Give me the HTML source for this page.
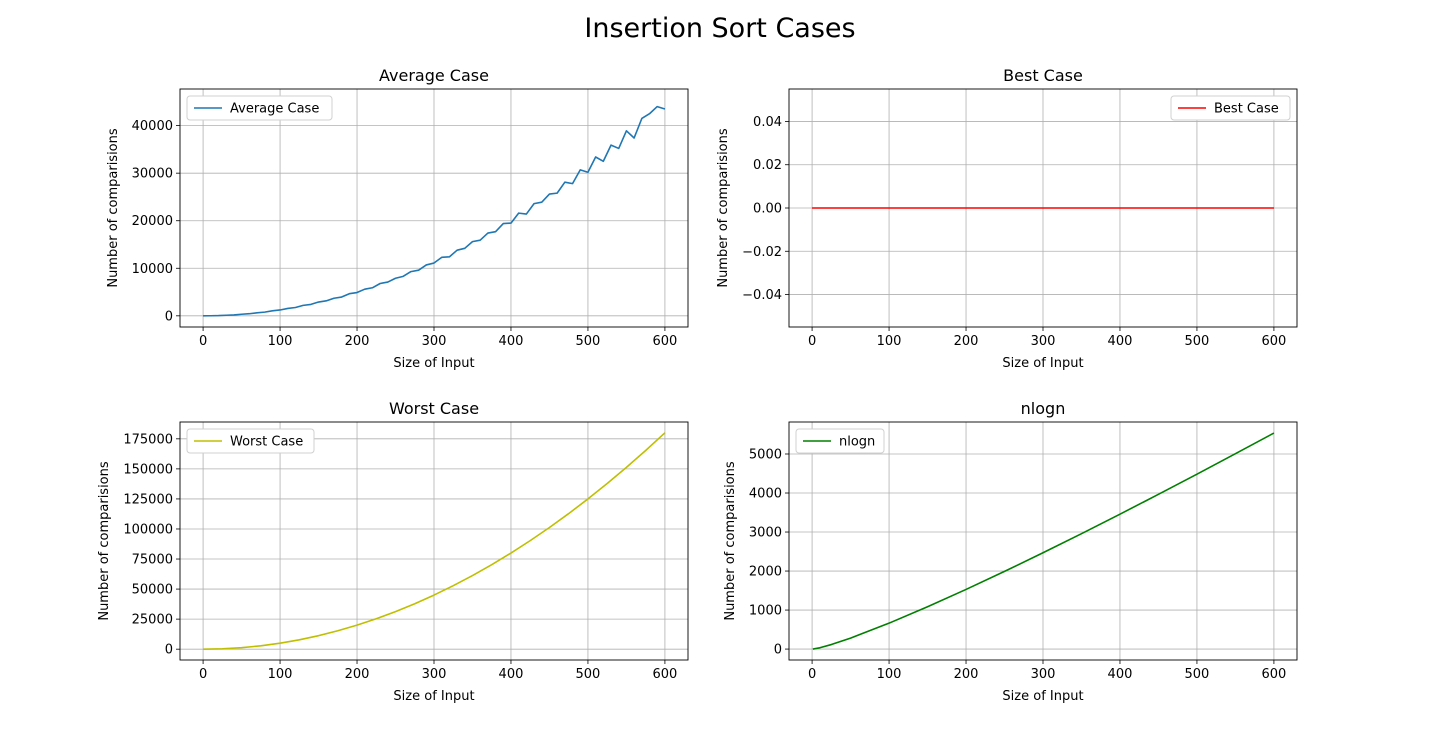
<!DOCTYPE html>
<html><head><meta charset="utf-8"><style>
body{margin:0;background:#fff;width:1440px;height:741px;overflow:hidden}
svg{font-family:"DejaVu Sans","Liberation Sans",sans-serif}
</style></head><body>
<svg id="fig" width="1440" height="741" xmlns="http://www.w3.org/2000/svg">
<text x="720" y="37" font-size="27" text-anchor="middle">Insertion Sort Cases</text>
</svg>
<script>
const xTicks=[0,100,200,300,400,500,600];
const avgX=[0,10,20,30,40,50,60,70,80,90,100,110,120,130,140,150,160,170,180,190,200,210,220,230,240,250,260,270,280,290,300,310,320,330,340,350,360,370,380,390,400,410,420,430,440,450,460,470,480,490,500,510,520,530,540,550,560,570,580,590,600];
const avgY=[0,15,48,120,190,330,440,640,780,1050,1230,1560,1750,2200,2400,2900,3150,3700,3950,4650,4900,5600,5900,6800,7100,7900,8300,9300,9600,10700,11100,12300,12400,13800,14200,15600,15900,17400,17700,19400,19500,21600,21400,23600,23900,25600,25800,28100,27800,30700,30200,33400,32500,35900,35200,38900,37400,41500,42500,44000,43500];
const bestX=[0,600];
const bestY=[0,0];
const worstX=[0,25,50,75,100,125,150,175,200,225,250,275,300,325,350,375,400,425,450,475,500,525,550,575,600];
const worstY=[0,312,1250,2812,5000,7812,11250,15312,20000,25312,31250,37812,45000,52812,61250,70312,80000,90312,101250,112812,125000,137812,151250,165312,180000];
const nlX=[1,10,25,50,100,150,200,250,300,350,400,450,500,550,600];
const nlY=[0,33,116,282,664,1084,1529,1991,2469,2958,3458,3966,4483,5007,5537];
const avgTicks=[0,10000,20000,30000,40000];
const bestTicks=[-0.04,-0.02,0.00,0.02,0.04];
const bestTickLabels=["\u22120.04","\u22120.02","0.00","0.02","0.04"];
const worstTicks=[0,25000,50000,75000,100000,125000,150000,175000];
const nlTicks=[0,1000,2000,3000,4000,5000];

const NS="http://www.w3.org/2000/svg";
const fig=document.getElementById('fig');
function mk(tag,attrs,parent){const e=document.createElementNS(NS,tag);for(const k in attrs)e.setAttribute(k,attrs[k]);(parent||fig).appendChild(e);return e;}

function panel(o){
  const g=mk('g',{});
  
  
  const L=o.x0,R=o.x0+508,T=o.y0,B=o.y0+238;
  const sx=v=>L+(v+30)/660*(R-L);
  const sy=v=>B-(v-o.ymin)/(o.ymax-o.ymin)*(B-T);
  xTicks.forEach(t=>{
    const l=mk('line',{x1:sx(t),x2:sx(t),y1:T,y2:B,stroke:'#b0b0b0','stroke-width':0.8},g);
    
    
    mk('line',{x1:sx(t),x2:sx(t),y1:B,y2:B+4,stroke:'#000','stroke-width':0.8},g);
    const tx=mk('text',{x:sx(t),y:B+18,'font-size':13,'text-anchor':'middle'},g);
    tx.textContent=t;
    
    
  });
  o.ticks.forEach((t,i)=>{
    const l=mk('line',{x1:L,x2:R,y1:sy(t),y2:sy(t),stroke:'#b0b0b0','stroke-width':0.8},g);
    
    
    mk('line',{x1:L-4,x2:L,y1:sy(t),y2:sy(t),stroke:'#000','stroke-width':0.8},g);
    const tx=mk('text',{x:L-7,y:sy(t)+4.5,'font-size':13,'text-anchor':'end'},g);
    tx.textContent=o.labels?o.labels[i]:t;
    
    
  });
  const pts=o.xs.map((x,i)=>sx(x)+','+sy(o.ys[i])).join(' ');
  const pl=mk('polyline',{points:pts,fill:'none',stroke:o.color,'stroke-width':1.6,'stroke-linejoin':'round'},g);
  
  
  const fr=mk('rect',{x:L,y:T,width:R-L,height:B-T,fill:'none',stroke:'#000','stroke-width':0.9},g);
  
  
  const tt=mk('text',{x:(L+R)/2,y:T-8,'font-size':16,'text-anchor':'middle'},g);
  tt.textContent=o.title;
  
  
  const xl=mk('text',{x:(L+R)/2,y:B+40,'font-size':13,'text-anchor':'middle'},g);
  xl.textContent='Size of Input';
  
  
  const yl=mk('text',{x:0,y:0,'font-size':13,'text-anchor':'middle',transform:`translate(${o.ylx},${(T+B)/2}) rotate(-90)`},g);
  yl.textContent='Number of comparisions';
  
  
  const lg=mk('g',{},g);
  
  
  const lw=o.legW, lx=o.legRight?R-7-lw:L+7, ly=T+7;
  mk('rect',{x:lx,y:ly,width:lw,height:24,rx:3,fill:'#fff',stroke:'#d0d0d0'},lg);
  mk('line',{x1:lx+7,x2:lx+35,y1:ly+12,y2:ly+12,stroke:o.color,'stroke-width':1.6},lg);
  const lt=mk('text',{x:lx+43,y:ly+16.5,'font-size':13},lg);
  lt.textContent=o.title;
  
  
}
panel({name:'average-case',title:'Average Case',x0:180,y0:89,xs:avgX,ys:avgY,ymin:-2350,ymax:47700,ticks:avgTicks,color:'#1f77b4',ylx:117,legW:145});
panel({name:'best-case',title:'Best Case',x0:789,y0:89,xs:bestX,ys:bestY,ymin:-0.055,ymax:0.055,ticks:bestTicks,labels:bestTickLabels,color:'#ff0000',ylx:727,legW:119,legRight:true});
panel({name:'worst-case',title:'Worst Case',x0:180,y0:422,xs:worstX,ys:worstY,ymin:-9000,ymax:189000,ticks:worstTicks,color:'#bfbf00',ylx:108,legW:127});
panel({name:'nlogn',title:'nlogn',x0:789,y0:422,xs:nlX,ys:nlY,ymin:-280,ymax:5820,ticks:nlTicks,color:'#008000',ylx:734,legW:88});
</script>
</body></html>
